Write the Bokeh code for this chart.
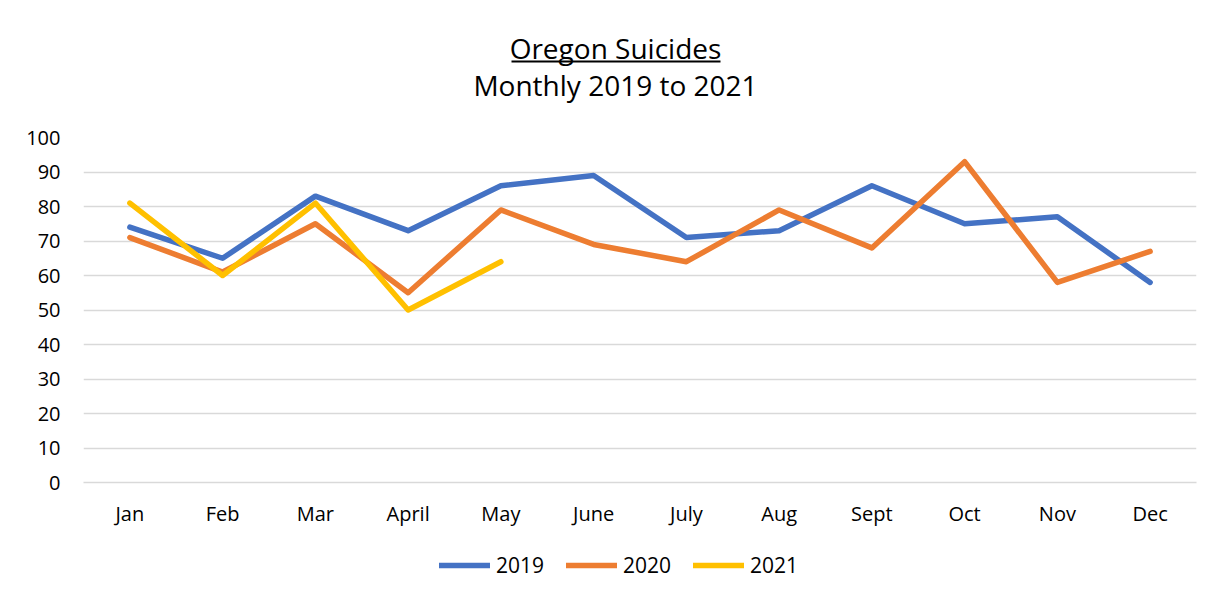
from bokeh.plotting import figure
from bokeh.layouts import column
from bokeh.models import Range1d, Legend, LegendItem, ColumnDataSource
from bokeh.core.properties import value
from bokeh.embed import file_html
from bokeh.resources import INLINE

months = ["Jan", "Feb", "Mar", "April", "May", "June", "July", "Aug", "Sept", "Oct", "Nov", "Dec"]
y2019 = [74, 65, 83, 73, 86, 89, 71, 73, 86, 75, 77, 58]
y2020 = [71, 61, 75, 55, 79, 69, 64, 79, 68, 93, 58, 67]
y2021 = [81, 60, 81, 50, 64]
series_names = ["2019", "2020", "2021"]
series_values = [y2019, y2020, y2021]
colors = ["#4472C4", "#ED7D31", "#FFC000"]
y_ticks = list(range(0, 101, 10))
title_lines = ["Oregon Suicides", "Monthly 2019 to 2021"]

FONT = "Open Sans"
W = 1218
LEFT, RIGHT = 83, 22          # frame borders shared by all stacked figures


def bare(fig):
    fig.axis.visible = False
    fig.grid.visible = False
    fig.outline_line_color = None
    fig.border_fill_color = "white"
    fig.background_fill_color = "white"
    return fig


# ---- title strip (data coords = page pixels) ----
pt = bare(figure(width=W, height=110, x_range=Range1d(LEFT, W - RIGHT), y_range=Range1d(110, 0),
                 output_backend="svg", toolbar_location=None,
                 min_border_left=LEFT, min_border_right=RIGHT,
                 min_border_top=0, min_border_bottom=0))
pt.text(x=[615, 615], y=[47, 84], text=title_lines,
        text_font=value(FONT), text_font_size="28px", text_align="center",
        text_baseline="middle", text_color="#000000")
pt.segment(x0=[511], y0=[61], x1=[720], y1=[61], line_color="#000000", line_width=2)

# ---- main chart ----
p = figure(width=W, height=430, x_range=months, y_range=Range1d(0, 100),
           output_backend="svg", toolbar_location=None,
           min_border_left=LEFT, min_border_right=RIGHT, min_border_top=27, min_border_bottom=58)
p.x_range.range_padding = 0
p.outline_line_color = None
p.background_fill_color = "white"
p.border_fill_color = "white"

p.xgrid.grid_line_color = None
p.ygrid.grid_line_color = "#D9D9D9"
p.ygrid.grid_line_width = 1.5
p.yaxis.ticker = y_ticks

for ax in (p.xaxis, p.yaxis):
    ax.major_tick_line_color = None
    ax.minor_tick_line_color = None
    ax.major_label_text_font = FONT
    ax.major_label_text_font_size = "20px"
    ax.major_label_text_color = "#000000"
p.yaxis.axis_line_color = None
p.xaxis.axis_line_color = "#D9D9D9"
p.xaxis.axis_line_width = 1.5
p.yaxis.major_label_standoff = 17
p.xaxis.major_label_standoff = 11

for name, vals, col in zip(series_names, series_values, colors):
    src = ColumnDataSource(dict(x=months[:len(vals)], y=vals))
    p.line("x", "y", source=src, line_color=col, line_width=5.5,
           line_join="round", line_cap="round")

# ---- legend strip ----
pl = bare(figure(width=W, height=59, x_range=months, y_range=Range1d(1000, 1100),
                 output_backend="svg", toolbar_location=None,
                 min_border_left=LEFT, min_border_right=RIGHT,
                 min_border_top=0, min_border_bottom=0))
items = []
for name, vals, col in zip(series_names, series_values, colors):
    src = ColumnDataSource(dict(x=months[:len(vals)], y=vals))
    r = pl.line("x", "y", source=src, line_color=col, line_width=5.5, line_cap="round")
    items.append(LegendItem(label=name, renderers=[r]))
legend = Legend(items=items, orientation="horizontal", location=(439 - LEFT, 20),
                glyph_width=51, glyph_height=20, label_height=20,
                label_text_font=FONT, label_text_font_size="21px", label_text_color="#000000",
                label_standoff=6, spacing=22, padding=0, margin=0,
                border_line_color=None, background_fill_alpha=0)
pl.add_layout(legend, "center")

layout = column(pt, p, pl, spacing=0)
open("out.html", "w").write(file_html(layout, INLINE))
